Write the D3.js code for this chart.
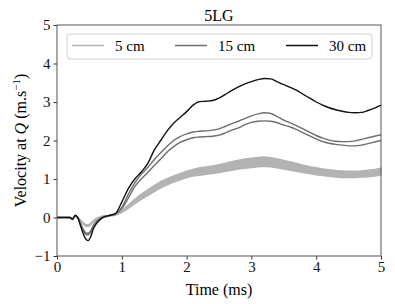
<!DOCTYPE html>
<html>
<head>
<meta charset="utf-8">
<script src="https://cdn.jsdelivr.net/npm/d3@7"></script>
<style>
  body { margin: 0; background: #fff; }
  text { font-family: "Liberation Serif", "DejaVu Serif", serif; }
</style>
</head>
<body>
<script>
// time samples (ms)
var time = [0, 0.1, 0.2, 0.24, 0.28, 0.32, 0.36, 0.4, 0.44, 0.48, 0.52, 0.56, 0.6, 0.65, 0.7, 0.8, 0.9,
  1.0, 1.1, 1.2, 1.3, 1.4, 1.5, 1.6, 1.7, 1.8, 1.9, 2.0, 2.1, 2.2, 2.3, 2.4, 2.5, 2.6, 2.7, 2.8, 2.9,
  3.0, 3.1, 3.2, 3.3, 3.4, 3.5, 3.6, 3.7, 3.8, 3.9, 4.0, 4.1, 4.2, 4.3, 4.4, 4.5, 4.6, 4.7, 4.8, 4.9, 5.0];

// 5 cm : band (lower / upper)
var v5lo = [0, 0, 0, -0.03, 0.03, -0.02, -0.1, -0.17, -0.22, -0.23, -0.19, -0.12, -0.07, -0.03, 0.0, 0.03, 0.06,
  0.13, 0.24, 0.36, 0.47, 0.57, 0.67, 0.77, 0.85, 0.92, 0.98, 1.04, 1.08, 1.1, 1.12, 1.14, 1.17, 1.2, 1.23, 1.26, 1.28,
  1.3, 1.32, 1.33, 1.32, 1.29, 1.26, 1.23, 1.2, 1.17, 1.14, 1.11, 1.09, 1.07, 1.05, 1.04, 1.04, 1.04, 1.05, 1.06, 1.08, 1.1];
var v5hi = [0, 0, 0, -0.02, 0.05, 0.01, -0.06, -0.13, -0.18, -0.19, -0.15, -0.08, -0.03, 0.01, 0.04, 0.06, 0.09,
  0.18, 0.32, 0.47, 0.6, 0.72, 0.83, 0.93, 1.01, 1.08, 1.14, 1.2, 1.25, 1.29, 1.31, 1.34, 1.37, 1.41, 1.45, 1.49, 1.52,
  1.54, 1.56, 1.57, 1.55, 1.52, 1.48, 1.44, 1.4, 1.36, 1.32, 1.29, 1.26, 1.24, 1.22, 1.21, 1.2, 1.2, 1.21, 1.23, 1.25, 1.28];

// 15 cm : two runs
var v15a = [0, 0, 0, -0.04, 0.05, 0.0, -0.14, -0.29, -0.39, -0.41, -0.34, -0.21, -0.12, -0.05, 0.0, 0.05, 0.09,
  0.26, 0.6, 0.9, 1.12, 1.3, 1.5, 1.68, 1.85, 2.0, 2.1, 2.17, 2.22, 2.24, 2.25, 2.27, 2.3, 2.37, 2.44, 2.5, 2.57,
  2.64, 2.69, 2.72, 2.7, 2.62, 2.53, 2.46, 2.38, 2.3, 2.21, 2.13, 2.06, 2.01, 1.98, 1.97, 1.97, 1.99, 2.03, 2.07, 2.11, 2.15];
var v15b = [0, 0, 0, -0.04, 0.05, 0.0, -0.16, -0.32, -0.43, -0.45, -0.38, -0.24, -0.13, -0.06, 0.0, 0.05, 0.09,
  0.23, 0.5, 0.8, 1.0, 1.17, 1.35, 1.52, 1.7, 1.84, 1.95, 2.02, 2.07, 2.09, 2.1, 2.11, 2.14, 2.2, 2.27, 2.33, 2.41,
  2.47, 2.5, 2.51, 2.5, 2.46, 2.4, 2.35, 2.28, 2.2, 2.12, 2.04, 1.97, 1.93, 1.9, 1.88, 1.86, 1.86, 1.88, 1.92, 1.96, 2.0];

// 30 cm
var v30 = [0, 0, 0, -0.05, 0.06, 0.0, -0.2, -0.4, -0.55, -0.6, -0.5, -0.3, -0.18, -0.08, -0.01, 0.05, 0.1,
  0.4, 0.75, 1.0, 1.18, 1.4, 1.75, 2.0, 2.25, 2.45, 2.6, 2.75, 2.92, 3.01, 3.02, 3.04, 3.1, 3.2, 3.3, 3.39, 3.47,
  3.53, 3.58, 3.61, 3.6, 3.52, 3.45, 3.38, 3.3, 3.2, 3.1, 3.0, 2.92, 2.85, 2.8, 2.76, 2.73, 2.72, 2.73, 2.78, 2.84, 2.92];

var legendLabels = ["5 cm", "15 cm", "30 cm"];
var colors = ["#b3b3b3", "#6e6e6e", "#111111"];
var xTicks = [0, 1, 2, 3, 4, 5];
var yTicks = [-1, 0, 1, 2, 3, 4, 5];

var W = 395, H = 304;
var margin = {top: 25, right: 14, bottom: 48, left: 57};

var svg = d3.select("body").append("svg")
    .attr("width", W)
    .attr("height", H);

var x = d3.scaleLinear().domain([0, 5]).range([margin.left, W - margin.right]);
var y = d3.scaleLinear().domain([-1, 5]).range([H - margin.bottom, margin.top]);

// 5 cm band
var area = d3.area()
    .x((d, i) => x(time[i]))
    .y0(d => y(d[0]))
    .y1(d => y(d[1]));

var band = v5lo.map((d, i) => [d, v5hi[i]]);

svg.append("path")
    .attr("d", area(band))
    .attr("fill", colors[0])
    .attr("stroke", colors[0])
    .attr("stroke-width", 1.5);

var line = d3.line()
    .x((d, i) => x(time[i]))
    .y(d => y(d))
    .curve(d3.curveMonotoneX);

[v15a, v15b, v30].forEach(function(s, i) {
  svg.append("path")
      .attr("d", line(s))
      .attr("fill", "none")
      .attr("stroke", i < 2 ? colors[1] : colors[2])
      .attr("stroke-width", 1.4);
});

// axes
var xAxis = svg.append("g")
    .attr("transform", "translate(0," + (H - margin.bottom) + ")")
    .call(d3.axisBottom(x).tickValues(xTicks).tickSize(3.5).tickPadding(2).tickFormat(d3.format("d")));

var yAxis = svg.append("g")
    .attr("transform", "translate(" + margin.left + ",0)")
    .call(d3.axisLeft(y).tickValues(yTicks).tickSize(3.5).tickPadding(3)
      .tickFormat(d => d < 0 ? "\u2212" + Math.abs(d) : d));

[xAxis, yAxis].forEach(function(g) {
  g.select(".domain").remove();
  g.selectAll("line").attr("stroke", "#333");
  g.selectAll("text")
      .style("font-family", "'Liberation Serif', serif")
      .style("font-size", "15px")
      .attr("fill", "#111");
});

// frame
svg.append("rect")
    .attr("x", margin.left)
    .attr("y", margin.top)
    .attr("width", W - margin.left - margin.right)
    .attr("height", H - margin.top - margin.bottom)
    .attr("fill", "none")
    .attr("stroke", "#555")
    .attr("stroke-width", 1);

// title
svg.append("text")
    .attr("x", (margin.left + W - margin.right) / 2)
    .attr("y", 21)
    .attr("text-anchor", "middle")
    .style("font-size", "16px")
    .text("5LG");

// axis labels
svg.append("text")
    .attr("x", (margin.left + W - margin.right) / 2)
    .attr("y", 295)
    .attr("text-anchor", "middle")
    .style("font-size", "16px")
    .text("Time (ms)");

var yl = svg.append("text")
    .attr("transform", "translate(26," + ((margin.top + H - margin.bottom) / 2) + ") rotate(-90)")
    .attr("text-anchor", "middle")
    .style("font-size", "16px");
yl.append("tspan").text("Velocity at ");
yl.append("tspan").style("font-style", "italic").text("Q");
yl.append("tspan").text(" (m.s");
yl.append("tspan").attr("dy", -6).style("font-size", "11px").text("\u22121");
yl.append("tspan").attr("dy", 6).text(")");

// legend
var legend = svg.append("g");
legend.append("rect")
    .attr("x", 67).attr("y", 34)
    .attr("width", 305).attr("height", 25)
    .attr("rx", 3)
    .attr("fill", "#fff")
    .attr("fill-opacity", 0.8)
    .attr("stroke", "#d0d0d0");

var legX = [72, 175, 286];
legendLabels.forEach(function(lab, i) {
  legend.append("line")
    .attr("x1", legX[i]).attr("x2", legX[i] + 32)
    .attr("y1", 45.5).attr("y2", 45.5)
    .attr("stroke", colors[i])
    .attr("stroke-width", 1.5);
  legend.append("text")
    .attr("x", legX[i] + 43)
    .attr("y", 51)
    .style("font-size", "15px")
    .text(lab);
});
</script>
</body>
</html>
